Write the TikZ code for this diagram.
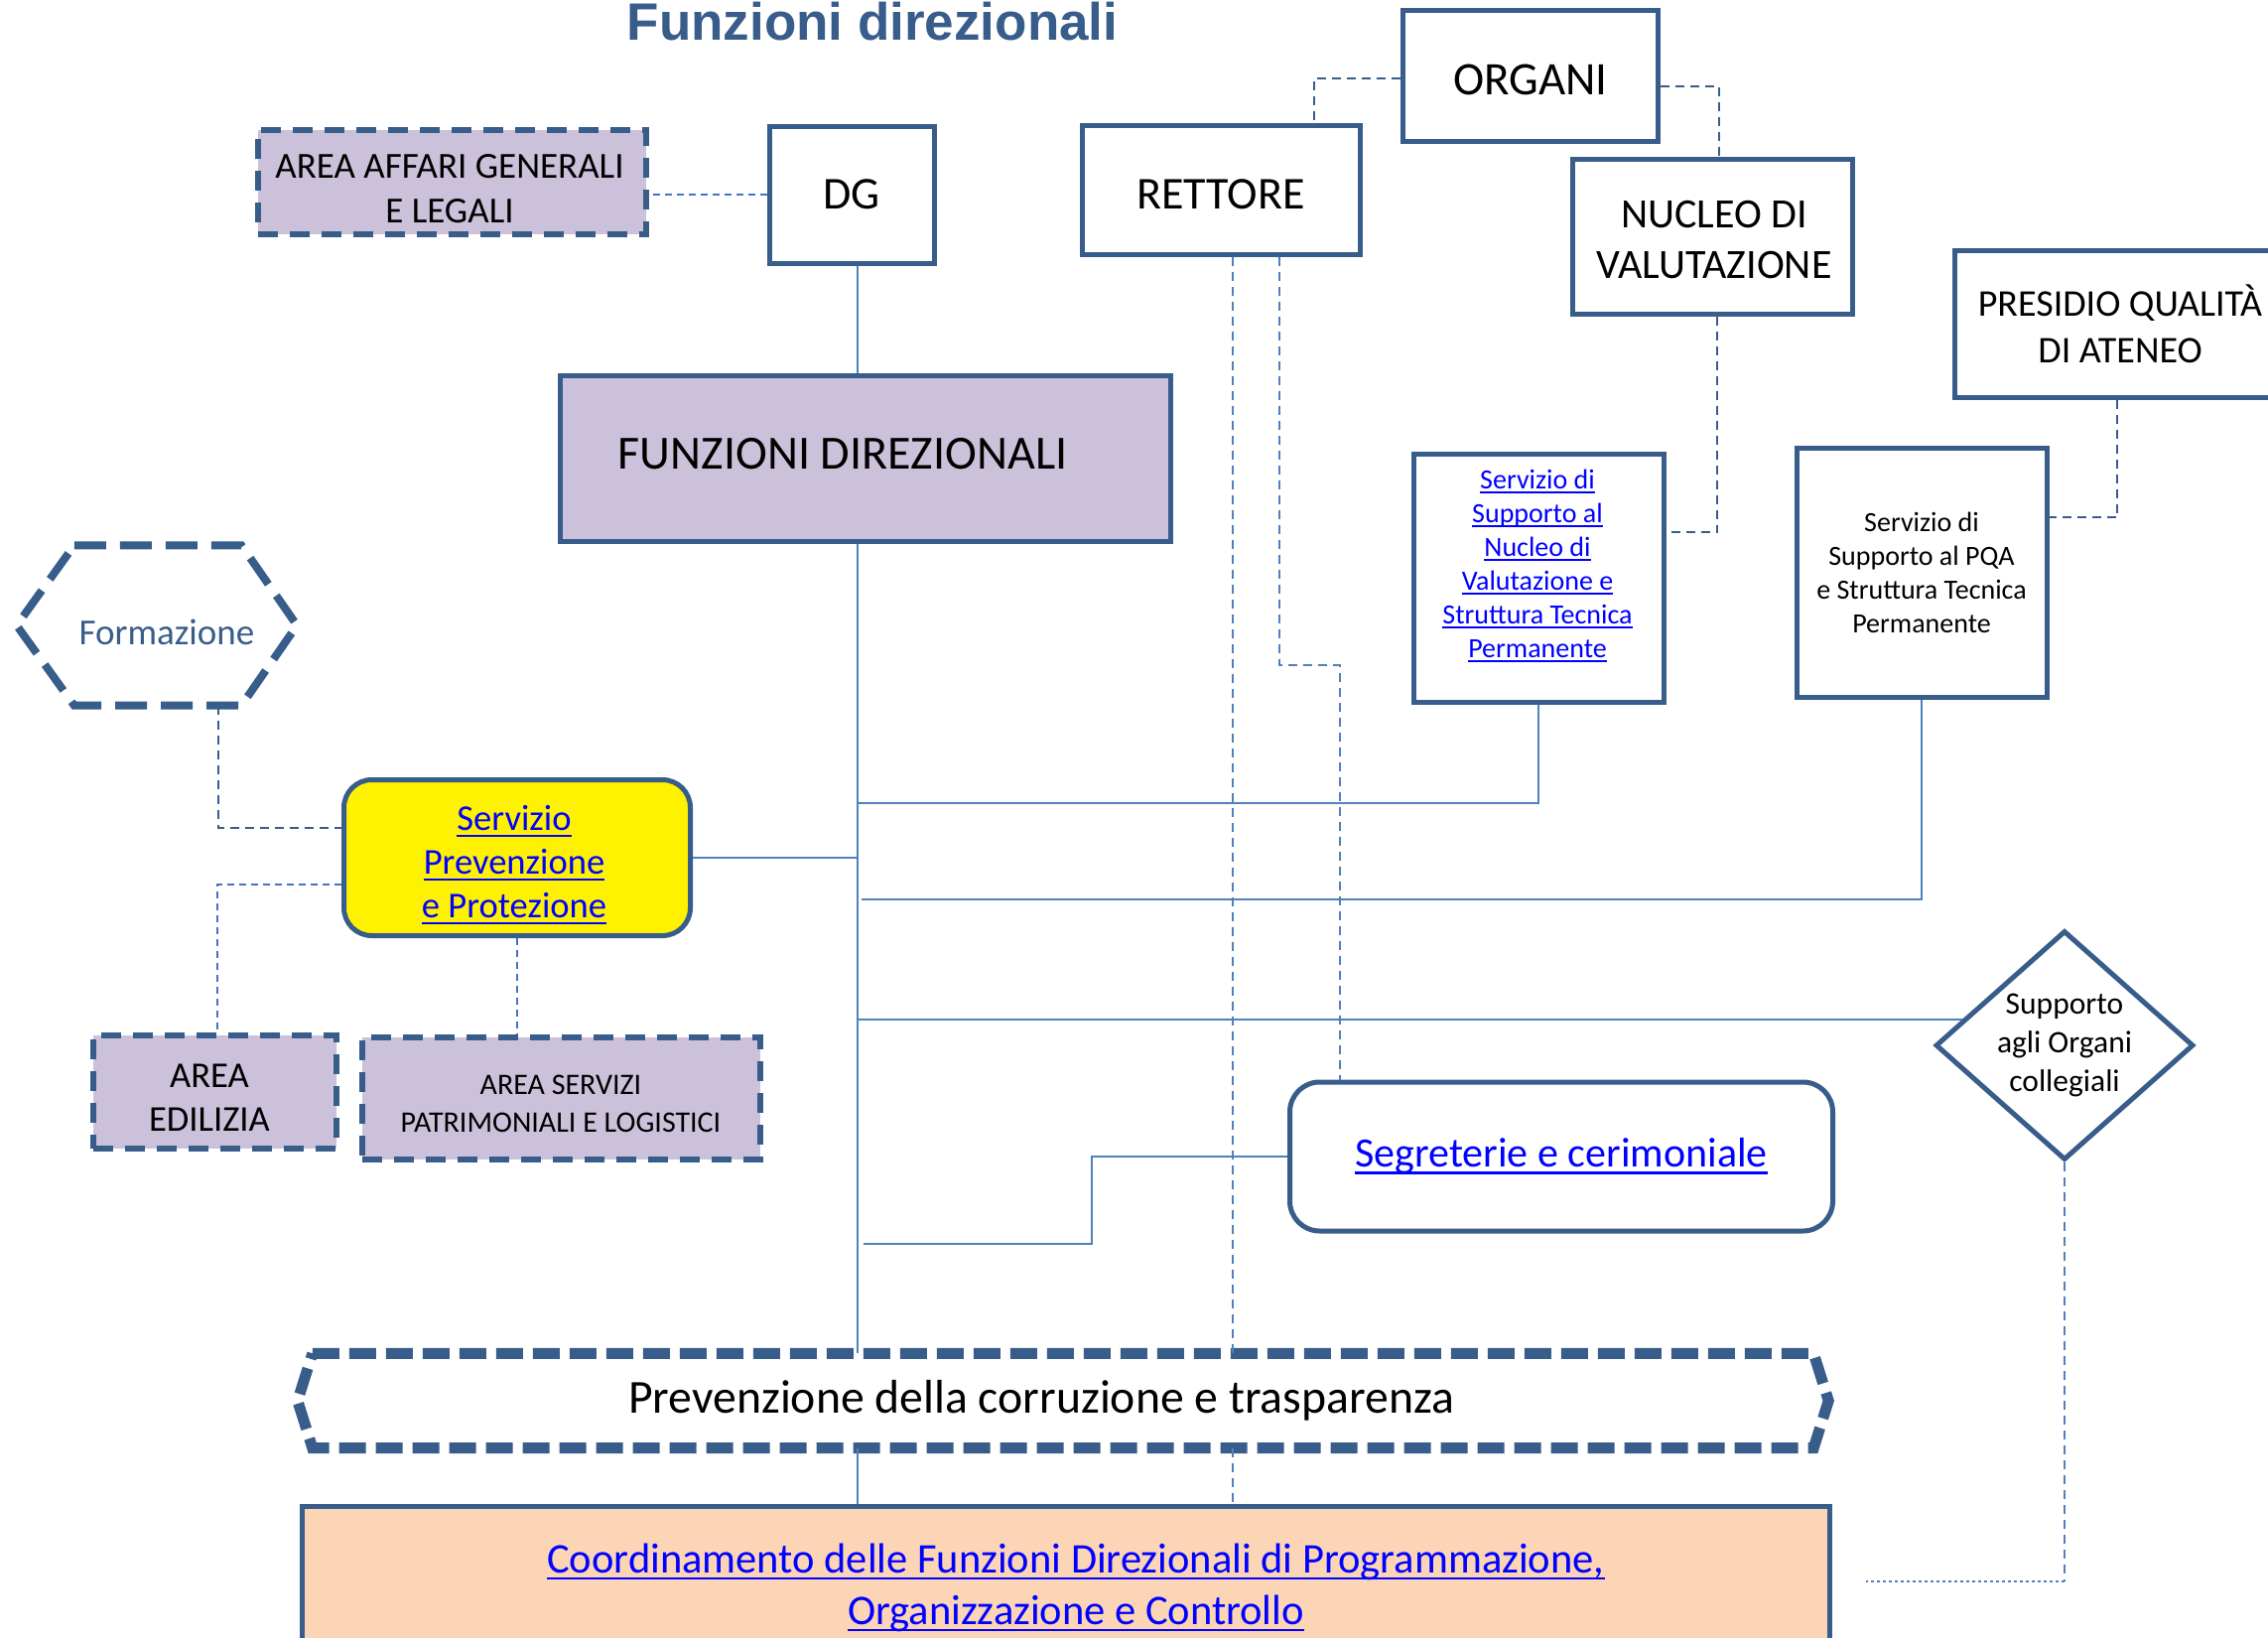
\documentclass[tikz,border=0pt]{standalone}
\usepackage{fontspec}
\setmainfont{Carlito}
\newfontfamily\titolofont{Liberation Sans}
\usetikzlibrary{shapes.geometric}

\definecolor{bordo}{HTML}{385D8A}
\definecolor{lilla}{HTML}{CCC1DA}
\definecolor{pesca}{HTML}{FBD5B5}
\definecolor{linea}{HTML}{4F81BD}
\definecolor{chiaro}{HTML}{4472C4}
\definecolor{link}{HTML}{0000FF}

% underlined link text
\newcommand{\lnk}[1]{{\color{link}\setbox0\hbox{#1}\rlap{\rule[-0.16em]{\wd0}{0.055em}}\box0}}

\tikzset{
  box/.style={draw=bordo, line width=5pt, fill=white, align=center, inner sep=0pt},
  areabox/.style={draw=bordo, line width=6pt, dash pattern=on 20pt off 12pt, fill=lilla, align=center, inner sep=0pt},
  testo/.style={align=center, inner sep=0pt},
  conn/.style={draw=linea, line width=1.6pt},
  tratt/.style={draw=linea, line width=1.6pt, dash pattern=on 9pt off 6pt},
  trattscuro/.style={draw=bordo, line width=1.8pt, dash pattern=on 9pt off 6pt},
  trattchiaro/.style={draw=chiaro, line width=1.8pt, dash pattern=on 7pt off 5pt},
}

\begin{document}
\begin{tikzpicture}[x=1pt, y=-1pt]
\useasboundingbox (0,0) rectangle (2285,1649);

% Title
\node[anchor=base, text=bordo, font=\titolofont\bfseries\fontsize{53}{60}\selectfont] (title) at (879,40) {Funzioni direzionali};

% Top row
\node[areabox, minimum width=391pt, minimum height=105pt] (affari) at (455,183) {};
\node[testo, font=\fontsize{37}{45}\selectfont] (affaritesto) at (453,190) {AREA AFFARI GENERALI\\E LEGALI};
\node[box, minimum width=166pt, minimum height=138pt, font=\fontsize{46}{55}\selectfont] (dg) at (858,196) {DG};
\node[box, minimum width=280pt, minimum height=130pt, text height=38pt, text depth=0pt, font=\fontsize{46}{55}\selectfont] (rett) at (1230,191) {RETTORE};
\node[box, minimum width=257pt, minimum height=132pt, text height=38pt, text depth=0pt, font=\fontsize{47}{56}\selectfont] (org) at (1542,76) {ORGANI};
\node[box, minimum width=282pt, minimum height=156pt] (nuc) at (1725,238) {};
\node[testo, font=\fontsize{42}{51}\selectfont] (nuctesto) at (1727,242) {NUCLEO DI\\VALUTAZIONE};
\node[box, minimum width=334pt, minimum height=148pt, font=\fontsize{38}{47}\selectfont] (pres) at (2136,326) {PRESIDIO QUALITÀ\\DI ATENEO};

% Central block and support services
\node[box, fill=lilla, minimum width=615pt, minimum height=167pt] (fd) at (872,462) {};
\node[testo, font=\fontsize{48}{56}\selectfont] (fdtesto) at (849,457) {FUNZIONI DIREZIONALI};
\node[box, minimum width=252pt, minimum height=250pt] (snv) at (1550,582) {};
\node[testo, font=\fontsize{28}{34}\selectfont] (snvtesto) at (1549,570) {\lnk{Servizio di}\\\lnk{Supporto al}\\\lnk{Nucleo di}\\\lnk{Valutazione e}\\\lnk{Struttura Tecnica}\\\lnk{Permanente}};
\node[box, minimum width=252pt, minimum height=251pt, font=\fontsize{28}{34}\selectfont] (spqa) at (1936,577) {Servizio di\\Supporto al PQA\\e Struttura Tecnica\\Permanente};

% Left side
\node[minimum width=282pt, minimum height=161pt] (form) at (158,630) {};
\draw[draw=bordo, line width=8pt, dash pattern=on 32pt off 14pt] ([xshift=58pt]form.north west) -- ([xshift=-56pt]form.north east) -- (form.east) -- ([xshift=-56pt]form.south east) -- ([xshift=58pt]form.south west) -- (form.west) -- cycle;
\node[testo, text=bordo, font=\fontsize{37}{45}\selectfont] (formtesto) at (168,637) {Formazione};
\node[box, fill=yellow, rounded corners=28pt, minimum width=349pt, minimum height=157pt] (spp) at (521,864) {};
\node[testo, font=\fontsize{36.6}{44}\selectfont] (spptesto) at (518,871) {\lnk{Servizio}\\\lnk{Prevenzione}\\\lnk{e Protezione}};
\node[areabox, minimum width=245pt, minimum height=114pt] (edil) at (216,1100) {};
\node[testo, font=\fontsize{36.6}{44}\selectfont] (ediltesto) at (211,1106) {AREA\\EDILIZIA};
\node[areabox, minimum width=401pt, minimum height=123pt] (aspl) at (565,1106) {};
\node[testo, font=\fontsize{30}{38}\selectfont] (aspltesto) at (565,1112) {AREA SERVIZI\\PATRIMONIALI E LOGISTICI};

% Right side
\node[diamond, draw=bordo, line width=5pt, fill=white, aspect=1.125, inner sep=0pt, minimum width=260pt, minimum height=231pt, align=center, font=\fontsize{31.5}{39}\selectfont] (sup) at (2080,1053) {Supporto\\agli Organi\\collegiali};
\node[box, rounded corners=30pt, minimum width=547pt, minimum height=150pt, font=\fontsize{42}{50}\selectfont] (segr) at (1573,1165) {\lnk{Segreterie e cerimoniale}};

% Bottom
\node[minimum width=1542pt, minimum height=95pt] (corr) at (1071,1411) {};
\draw[draw=bordo, line width=11pt, dash pattern=on 27pt off 10pt] ([xshift=15pt]corr.north west) -- ([xshift=-15pt]corr.north east) -- (corr.east) -- ([xshift=-15pt]corr.south east) -- ([xshift=15pt]corr.south west) -- (corr.west) -- cycle;
\node[testo, font=\fontsize{47.7}{56}\selectfont] (corrtesto) at (1049,1411) {Prevenzione della corruzione e trasparenza};
\node[box, fill=pesca, minimum width=1539pt, minimum height=154pt] (coord) at (1074,1594) {};
\node[testo, font=\fontsize{42.5}{52}\selectfont] (coordtesto) at (1084,1599) {\lnk{Coordinamento delle Funzioni Direzionali di Programmazione,}\\\lnk{Organizzazione e Controllo}};

% Main trunk
\coordinate (asse) at (864,0);
\draw[conn] (dg.south -| asse) -- (fd.north -| asse);
\draw[conn] (fd.south -| asse) -- (corr.north -| asse);
\draw[conn] (corr.south -| asse) -- (coord.north -| asse);

% Branches from the trunk
\coordinate (b1) at (864,809);
\coordinate (b2) at (868,906);
\coordinate (b3) at (870,1253);
\coordinate (b4) at (1100,1253);
\draw[conn] (b1) -| (snv.south);
\draw[conn] (spp.east) -- (spp.east -| asse);
\draw[conn] (b2) -| (spqa.south);
\draw[conn] (sup.166 -| asse) -- (sup.166);
\draw[conn] (b3) -- (b4) |- (segr.west);

% Dashed links
\draw[trattchiaro] (dg.west) -- (dg.west -| affari.east);
\coordinate (o1) at (1324,79);
\draw[trattscuro] (org.west |- o1) -- (o1) -- (rett.north -| o1);
\coordinate (o2) at (1732,87);
\draw[trattscuro] (org.east |- o2) -- (o2) -- (nuc.north -| o2);
\coordinate (n1) at (1730,536);
\draw[trattscuro] (nuc.south -| n1) -- (n1) -- (snv.east |- n1);
\coordinate (p1) at (2133,521);
\draw[trattscuro] (pres.south -| p1) -- (p1) -- (spqa.east |- p1);

\coordinate (ra) at (1242,0);
\draw[tratt] (rett.south -| ra) -- (corr.north -| ra);
\draw[tratt] (corr.south -| ra) -- (coord.north -| ra);
\coordinate (rb1) at (1289,670);
\coordinate (rb2) at (1350,670);
\draw[tratt] (rett.south -| rb1) -- (rb1) -- (rb2) -- (segr.north -| rb2);

\coordinate (f1) at (220,834);
\draw[trattscuro] (form.south -| f1) -- (f1) -- (spp.west |- f1);
\coordinate (e1) at (219,891);
\draw[trattchiaro] (spp.west |- e1) -- (e1) -- (edil.north -| e1);
\draw[trattchiaro] (spp.south) -- (aspl.north -| spp.south);

\coordinate (s1) at (2080,1593);
\coordinate (s2) at (1880,1593);
\draw[tratt] (sup.south) -- (s1);
\draw[draw=linea, line width=2pt, dash pattern=on 3pt off 3pt] (s1) -- (s2);

\end{tikzpicture}
\end{document}
